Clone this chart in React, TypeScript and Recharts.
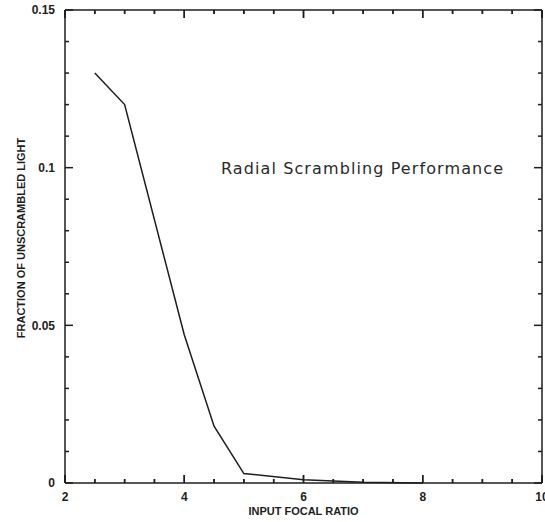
import { LineChart, Line, XAxis, YAxis, ReferenceLine } from "recharts";

// values
const focalRatio = [2.5, 3, 4, 4.5, 5, 6, 7, 8];
const unscrambled = [0.13, 0.12, 0.047, 0.018, 0.003, 0.001, 0.0002, 0];

const xTicks = [2, 2.5, 3, 3.5, 4, 4.5, 5, 5.5, 6, 6.5, 7, 7.5, 8, 8.5, 9, 9.5, 10];
const xLabels = ["2", "4", "6", "8", "10"];
const yTicks = [0, 0.01, 0.02, 0.03, 0.04, 0.05, 0.06, 0.07, 0.08, 0.09, 0.1, 0.11, 0.12, 0.13, 0.14, 0.15];
const yLabels = ["0", "0.05", "0.1", "0.15"];

const data = focalRatio.map((x, i) => ({ x, y: unscrambled[i] }));

const INK = "#1e1e1e";
const FONT = "'Liberation Sans', Arial, sans-serif";

// inward tick lengths in axis units (8px / 4px on a 473px-high, 477px-wide frame)
const X_MAJOR = 0.15 * (8 / 473);
const X_MINOR = 0.15 * (4 / 473);
const Y_MAJOR = 8 * (8 / 477);
const Y_MINOR = 8 * (4 / 477);

const isMajorX = (v: number) => xLabels.includes(String(v));
const isMajorY = (v: number) => Math.abs(v / 0.05 - Math.round(v / 0.05)) < 1e-6;

function BottomTick(props: any) {
  const { x, y, payload } = props;
  const major = isMajorX(payload.value);
  return (
    <g>
      <path d={`M${x},${y}L${x},${y - (major ? 8 : 4)}`} stroke={INK} strokeWidth={1.5} />
      {major && (
        <text x={x} y={y + 18} textAnchor="middle" fill={INK} fontSize={12} fontFamily={FONT} fontWeight={600}>
          {payload.value}
        </text>
      )}
    </g>
  );
}

function TopTick(props: any) {
  const { x, y, payload } = props;
  const major = isMajorX(payload.value);
  return (
    <g>
      <path d={`M${x},${y}L${x},${y + (major ? 8 : 4)}`} stroke={INK} strokeWidth={1.5} />
    </g>
  );
}

const titleStyle: React.CSSProperties = {
  position: "absolute",
  whiteSpace: "nowrap",
  color: INK,
  fontFamily: FONT,
  fontWeight: 600,
  fontSize: 11,
  lineHeight: "11px",
};

const refProps = { xAxisId: "bottom", yAxisId: "left", stroke: INK, strokeWidth: 1.5, ifOverflow: "visible" as const };

export default function App() {
  return (
    <div style={{ position: "absolute", left: 0, top: 0, width: 545, height: 522, overflow: "hidden", background: "#fff" }}>
      <LineChart width={560} height={522} data={data} margin={{ top: 9, right: 17, bottom: 38, left: 64 }}>
        <XAxis
          xAxisId="bottom"
          type="number"
          dataKey="x"
          domain={[2, 10]}
          ticks={xTicks}
          interval={0}
          height={1}
          tickSize={0}
          tickMargin={0}
          tickLine={false}
          axisLine={{ stroke: INK, strokeWidth: 1.5 }}
          tick={<BottomTick />}
        />
        <XAxis
          xAxisId="top"
          orientation="top"
          type="number"
          dataKey="x"
          domain={[2, 10]}
          ticks={xTicks}
          interval={0}
          height={1}
          tickSize={0}
          tickMargin={0}
          tickLine={false}
          axisLine={{ stroke: INK, strokeWidth: 1.5 }}
          tick={<TopTick />}
        />
        <YAxis
          yAxisId="left"
          type="number"
          domain={[0, 0.15]}
          ticks={yTicks}
          interval={0}
          width={1}
          tickSize={0}
          tickMargin={10}
          tickLine={false}
          axisLine={{ stroke: INK, strokeWidth: 1.5 }}
          tickFormatter={(v: number) => yLabels.find((s) => Math.abs(Number(s) - v) < 1e-9) ?? ""}
          tick={{ fill: INK, fontSize: 12, fontFamily: FONT, fontWeight: 600 }}
        />
        <YAxis
          yAxisId="right"
          orientation="right"
          type="number"
          domain={[0, 0.15]}
          width={1}
          tick={false}
          tickLine={false}
          axisLine={{ stroke: INK, strokeWidth: 1.5 }}
        />
        {/* inward tick marks on all four sides */}
        {xTicks.map((t) => {
          const len = isMajorX(t) ? X_MAJOR : X_MINOR;
          return [
            <ReferenceLine key={`b${t}`} {...refProps} segment={[{ x: t, y: 0 }, { x: t, y: len }]} />,
            <ReferenceLine key={`t${t}`} {...refProps} segment={[{ x: t, y: 0.15 }, { x: t, y: 0.15 - len }]} />,
          ];
        })}
        {yTicks.map((t) => {
          const len = isMajorY(t) ? Y_MAJOR : Y_MINOR;
          return [
            <ReferenceLine key={`l${t}`} {...refProps} segment={[{ x: 2, y: t }, { x: 2 + len, y: t }]} />,
            <ReferenceLine key={`r${t}`} {...refProps} segment={[{ x: 10, y: t }, { x: 10 - len, y: t }]} />,
          ];
        })}
        <Line
          xAxisId="bottom"
          yAxisId="left"
          type="linear"
          dataKey="y"
          stroke={INK}
          strokeWidth={1.5}
          dot={false}
          isAnimationActive={false}
        />
      </LineChart>
      <div style={{ ...titleStyle, left: 0, width: 607, top: 506, textAlign: "center" }}>INPUT FOCAL RATIO</div>
      <div style={{ ...titleStyle, left: 21, top: 238, transform: "translate(-50%, -50%) rotate(-90deg)" }}>
        FRACTION OF UNSCRAMBLED LIGHT
      </div>
      <div
        style={{
          position: "absolute",
          left: 221,
          top: 161,
          whiteSpace: "nowrap",
          color: "#2a2a2a",
          fontFamily: "'DejaVu Sans', sans-serif",
          fontSize: 16,
          lineHeight: "16px",
          letterSpacing: 1.1,
        }}
      >
        Radial Scrambling Performance
      </div>
    </div>
  );
}
